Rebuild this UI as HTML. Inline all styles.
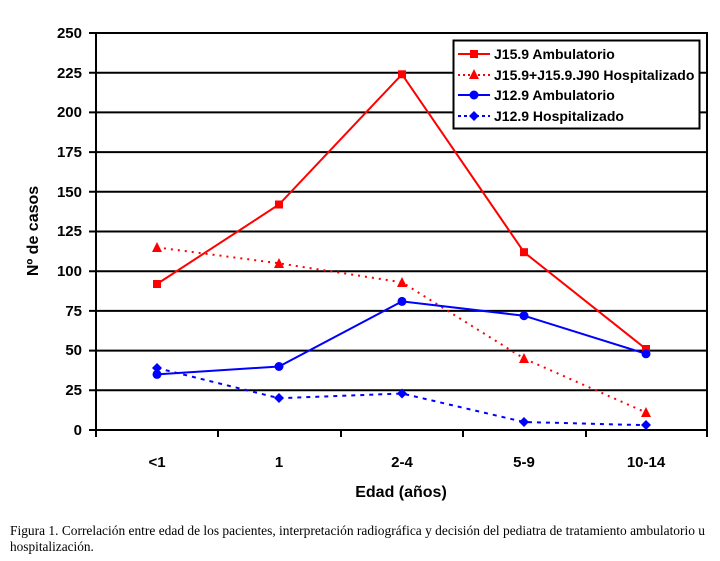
<!DOCTYPE html>
<html><head><meta charset="utf-8"><style>
html,body{margin:0;padding:0;background:#fff;}
svg{display:block;}
</style></head><body>
<svg width="720" height="561" viewBox="0 0 720 561" xmlns="http://www.w3.org/2000/svg">
<rect width="720" height="561" fill="#fff"/>
<g stroke="#000" stroke-width="2">
<line x1="89" y1="33" x2="708" y2="33"/>
<line x1="89" y1="72.7" x2="708" y2="72.7"/>
<line x1="89" y1="112.4" x2="708" y2="112.4"/>
<line x1="89" y1="152.1" x2="708" y2="152.1"/>
<line x1="89" y1="191.8" x2="708" y2="191.8"/>
<line x1="89" y1="231.5" x2="708" y2="231.5"/>
<line x1="89" y1="271.2" x2="708" y2="271.2"/>
<line x1="89" y1="310.9" x2="708" y2="310.9"/>
<line x1="89" y1="350.6" x2="708" y2="350.6"/>
<line x1="89" y1="390.3" x2="708" y2="390.3"/>
<line x1="89" y1="430" x2="708" y2="430"/>
<line x1="96" y1="33" x2="96" y2="437"/>
<line x1="707" y1="33" x2="707" y2="437"/>
<line x1="218" y1="430" x2="218" y2="437"/>
<line x1="341" y1="430" x2="341" y2="437"/>
<line x1="463" y1="430" x2="463" y2="437"/>
<line x1="586" y1="430" x2="586" y2="437"/>
</g>
<g font-family="Liberation Sans, sans-serif" font-weight="bold" font-size="15" text-anchor="end">
<text x="82" y="38">250</text><text x="82" y="78">225</text><text x="82" y="117">200</text>
<text x="82" y="157">175</text><text x="82" y="197">150</text><text x="82" y="236">125</text>
<text x="82" y="276">100</text><text x="82" y="316">75</text><text x="82" y="355">50</text>
<text x="82" y="395">25</text><text x="82" y="435">0</text>
</g>
<g font-family="Liberation Sans, sans-serif" font-weight="bold" font-size="15" text-anchor="middle">
<text x="157" y="467">&lt;1</text><text x="279" y="467">1</text><text x="402" y="467">2-4</text>
<text x="524" y="467">5-9</text><text x="646" y="467">10-14</text>
<text x="401" y="497" font-size="16">Edad (años)</text>
<text transform="translate(38,231) rotate(-90)" font-size="16">Nº de casos</text>
</g>
<polyline fill="none" stroke="#f00" stroke-width="2" points="157,284 279,204.5 402,74.3 524,252.2 646,349"/>
<g fill="#f00"><rect x="153" y="280" width="8" height="8"/><rect x="275" y="200.5" width="8" height="8"/><rect x="398" y="70.3" width="8" height="8"/><rect x="520" y="248.2" width="8" height="8"/><rect x="642" y="345" width="8" height="8"/></g>
<polyline fill="none" stroke="#f00" stroke-width="2" stroke-dasharray="2,5" points="157,247.4 279,263.3 402,282.3 524,358.5 646,412.5"/>
<g fill="#f00"><polygon points="157,242 152,252 162,252"/><polygon points="279,258 274,268 284,268"/><polygon points="402,277 397,287 407,287"/><polygon points="524,353 519,363 529,363"/><polygon points="646,407 641,417 651,417"/></g>
<polyline fill="none" stroke="#00f" stroke-width="2" points="157,374.4 279,366.5 402,301.4 524,315.7 646,353.8"/>
<g fill="#00f"><circle cx="157" cy="374.4" r="4.5"/><circle cx="279" cy="366.5" r="4.5"/><circle cx="402" cy="301.4" r="4.5"/><circle cx="524" cy="315.7" r="4.5"/><circle cx="646" cy="353.8" r="4.5"/></g>
<polyline fill="none" stroke="#00f" stroke-width="2" stroke-dasharray="4,5" points="157,368 279,398.2 402,393.5 524,422 646,425.2"/>
<g fill="#00f"><polygon points="157,363 162,368 157,373 152,368"/><polygon points="279,393 284,398 279,403 274,398"/><polygon points="402,388.5 407,393.5 402,398.5 397,393.5"/><polygon points="524,417 529,422 524,427 519,422"/><polygon points="646,420 651,425 646,430 641,425"/></g>
<rect x="453.5" y="40.5" width="246" height="88" fill="#fff" stroke="#000" stroke-width="2"/>
<line x1="458" y1="54" x2="490" y2="54" stroke="#f00" stroke-width="2"/><rect x="470" y="50" width="8" height="8" fill="#f00"/>
<line x1="458" y1="75" x2="490" y2="75" stroke="#f00" stroke-width="2" stroke-dasharray="2,3"/><polygon points="474,69 469,79 479,79" fill="#f00"/>
<line x1="458" y1="95" x2="490" y2="95" stroke="#00f" stroke-width="2"/><circle cx="474" cy="95" r="4.5" fill="#00f"/>
<line x1="458" y1="116" x2="490" y2="116" stroke="#00f" stroke-width="2" stroke-dasharray="3,3"/><polygon points="474,111 479,116 474,121 469,116" fill="#00f"/>
<g font-family="Liberation Sans, sans-serif" font-weight="bold" font-size="14">
<text x="494" y="59">J15.9 Ambulatorio</text>
<text x="494" y="80">J15.9+J15.9.J90 Hospitalizado</text>
<text x="494" y="100">J12.9 Ambulatorio</text>
<text x="494" y="121">J12.9 Hospitalizado</text>
</g>
<g font-family="Liberation Serif, serif" font-size="13.3">
<text x="10" y="535" textLength="695" lengthAdjust="spacingAndGlyphs">Figura 1. Correlación entre edad de los pacientes, interpretación radiográfica y decisión del pediatra de tratamiento ambulatorio u</text>
<text x="10" y="551">hospitalización.</text>
</g>
</svg>
</body></html>
